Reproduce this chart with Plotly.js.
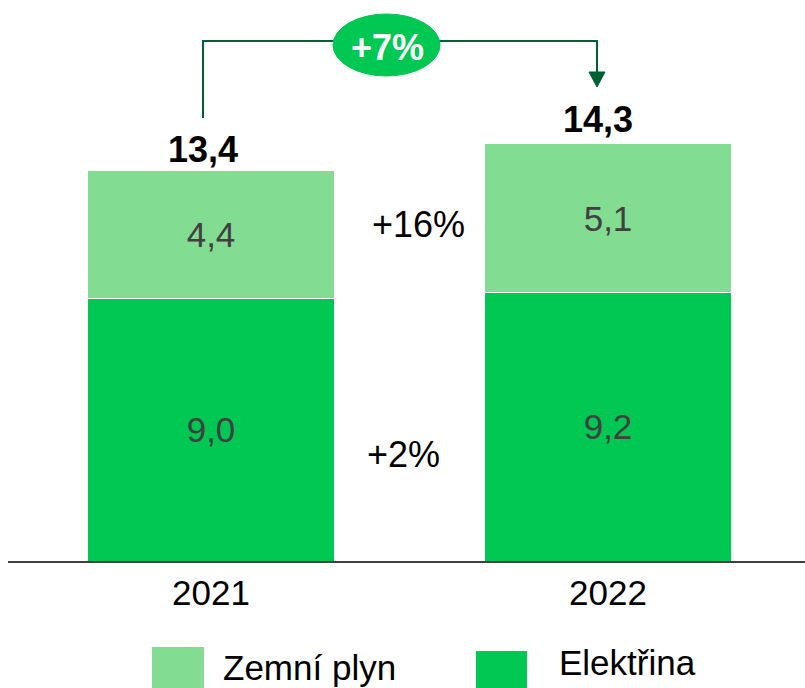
<!DOCTYPE html>
<html>
<head>
<meta charset="utf-8">
<script src="https://cdn.plot.ly/plotly-3.0.1.min.js"></script>
<style>html,body{margin:0;padding:0;background:#fff;}#chart{width:805px;height:688px;}</style>
</head>
<body>
<div id="chart"></div>
<script>
var years = ['2021', '2022'];
var elektrina = [9.0, 9.2];
var zemniPlyn = [4.4, 5.1];
var totals = [13.4, 14.3];
var changeTotal = '+7%';
var changeZemniPlyn = '+16%';
var changeElektrina = '+2%';
var seriesNames = ['Zemní plyn', 'Elektřina'];

var W = 805, H = 688, ML = 8, MR = 0, MT = 0, MB = 127;
var plotW = W - ML - MR, plotH = H - MT - MB;
var pxPerUnit = 29.17;
var yMax = plotH / pxPerUnit;
var catPx = 397, cat0Px = 211;
var xMin = (ML - cat0Px) / catPx, xMax = (W - MR - cat0Px) / catPx;

function dx(px) { return (px - cat0Px) / catPx; }
function dy(py) { return (MT + plotH - py) / pxPerUnit; }
function px2paperX(px) { return (px - ML) / plotW; }
function px2paperY(py) { return (MT + plotH - py) / plotH; }

var FONT = 'Liberation Sans, Arial, sans-serif';
var LIGHT = '#82DC92';
var BRIGHT = '#00C853';
var DARK = '#005F35';

var traces = [
  {
    type: 'bar', name: seriesNames[1], x: years, y: elektrina,
    marker: {color: BRIGHT, line: {color: '#ffffff', width: 1}},
    width: 0.62, texttemplate: '%{y:.1f}', textposition: 'inside',
    insidetextanchor: 'middle', textangle: 0,
    textfont: {family: FONT, size: 35, color: '#404040'}, hoverinfo: 'skip'
  },
  {
    type: 'bar', name: seriesNames[0], x: years, y: zemniPlyn,
    marker: {color: LIGHT, line: {color: '#ffffff', width: 1}},
    width: 0.62, texttemplate: '%{y:.1f}', textposition: 'inside',
    insidetextanchor: 'middle', textangle: 0,
    textfont: {family: FONT, size: 35, color: '#404040'}, hoverinfo: 'skip'
  }
];

var fmt = function (v) { return v.toFixed(1).replace('.', ','); };

var annotations = [
  {x: 0, y: totals[0], xref: 'x', yref: 'y', text: '<b>' + fmt(totals[0]) + '</b>', showarrow: false,
   xshift: -8, yanchor: 'bottom', yshift: -2, font: {family: FONT, size: 36, color: '#000'}},
  {x: 1, y: totals[1], xref: 'x', yref: 'y', text: '<b>' + fmt(totals[1]) + '</b>', showarrow: false,
   xshift: -10, yanchor: 'bottom', yshift: 2, font: {family: FONT, size: 36, color: '#000'}},
  {x: dx(387), y: dy(47), xref: 'x', yref: 'y', text: '<b>' + changeTotal + '</b>', showarrow: false,
   font: {family: FONT, size: 36, color: '#fff'}},
  {x: dx(418), y: dy(224), xref: 'x', yref: 'y', text: changeZemniPlyn, showarrow: false,
   font: {family: FONT, size: 36, color: '#000'}},
  {x: dx(403), y: dy(454), xref: 'x', yref: 'y', text: changeElektrina, showarrow: false,
   font: {family: FONT, size: 36, color: '#000'}},
  {x: px2paperX(221), y: px2paperY(667), xref: 'paper', yref: 'paper', xanchor: 'left', yanchor: 'middle', text: seriesNames[0],
   showarrow: false, font: {family: FONT, size: 35, color: '#000'}},
  {x: px2paperX(557), y: px2paperY(662), xref: 'paper', yref: 'paper', xanchor: 'left', yanchor: 'middle', text: seriesNames[1],
   showarrow: false, font: {family: FONT, size: 35, color: '#000'}}
];

var shapes = [
  {type: 'path', xref: 'x', yref: 'y',
   path: 'M ' + dx(203) + ',' + dy(118) + ' L ' + dx(203) + ',' + dy(41) + ' L ' + dx(597) + ',' + dy(41) + ' L ' + dx(597) + ',' + dy(74),
   line: {color: DARK, width: 2}},
  {type: 'path', xref: 'x', yref: 'y',
   path: 'M ' + dx(589) + ',' + dy(72) + ' L ' + dx(605) + ',' + dy(72) + ' L ' + dx(597) + ',' + dy(87) + ' Z',
   fillcolor: DARK, line: {color: DARK, width: 1}},
  {type: 'circle', xref: 'x', yref: 'y', x0: dx(333), x1: dx(440), y0: dy(76), y1: dy(14),
   fillcolor: BRIGHT, line: {color: BRIGHT, width: 1}},
  {type: 'rect', xref: 'paper', yref: 'paper', x0: px2paperX(152), x1: px2paperX(204), y0: px2paperY(688), y1: px2paperY(647),
   fillcolor: LIGHT, line: {width: 0}},
  {type: 'rect', xref: 'paper', yref: 'paper', x0: px2paperX(476), x1: px2paperX(527), y0: px2paperY(688), y1: px2paperY(651),
   fillcolor: BRIGHT, line: {width: 0}}
];

var layout = {
  width: W, height: H,
  margin: {l: ML, r: MR, t: MT, b: MB, pad: 0},
  paper_bgcolor: '#fff', plot_bgcolor: '#fff',
  barmode: 'stack', separators: ', ',
  showlegend: false,
  font: {family: FONT},
  xaxis: {type: 'category', range: [xMin, xMax], showline: true, linecolor: '#404040', linewidth: 2,
          showgrid: false, zeroline: false, ticks: '', fixedrange: true,
          tickfont: {family: FONT, size: 35, color: '#000'}},
  yaxis: {range: [0, yMax], visible: false, showgrid: false, zeroline: false, fixedrange: true},
  annotations: annotations,
  shapes: shapes
};

Plotly.newPlot('chart', traces, layout, {staticPlot: true, displayModeBar: false});
</script>
</body>
</html>
